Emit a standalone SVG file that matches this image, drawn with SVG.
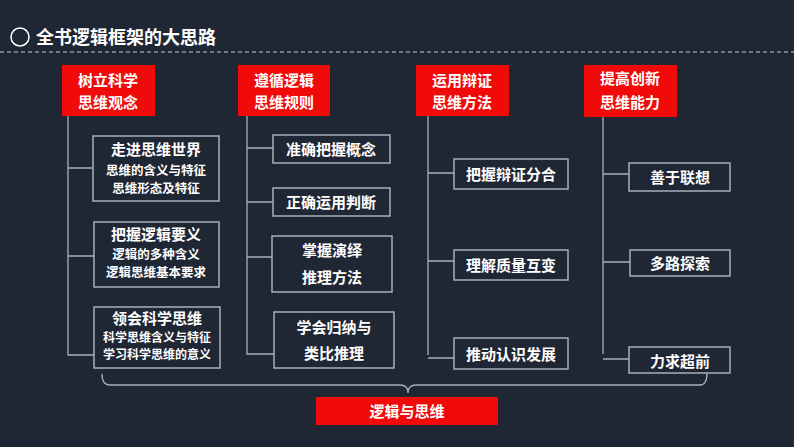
<svg xmlns="http://www.w3.org/2000/svg" width="794" height="447" viewBox="0 0 794 447">
<style>
text{font-family:"Noto Sans CJK SC","Liberation Sans",sans-serif;font-weight:bold;fill:#fff;text-anchor:middle}
.r{fill:#f00a0a}
.b{fill:#1f2634;stroke:#a9b0ba;stroke-width:1.5}
.c{fill:none;stroke:#a9b0ba;stroke-width:1.3}
.h{font-size:17px}
.s{font-size:12.5px}
.m{font-size:15px}
</style>
<rect width="794" height="447" fill="#1f2634"/>
<circle cx="20" cy="37" r="9" fill="none" stroke="#fff" stroke-width="1.5"/>
<text x="36" y="44" style="font-size:18px;text-anchor:start">全书逻辑框架的大思路</text>
<line x1="0" y1="52" x2="794" y2="52" stroke="#c8ccd2" stroke-width="1.2" stroke-dasharray="4,3"/>
<g id="connectors">
<path class="c" d="M68 116V355H94M68 168H93M68 256H94"/>
<path class="c" d="M247 116V354H274M247 148H273M247 202H273M247 257H272"/>
<path class="c" d="M428 116V355M428 173H454M428 261H454M428 358H454"/>
<path class="c" d="M603 117V354M603 174H629M603 262H630M603 359H629"/>
<path class="c" d="M102 374Q102 385 110 385H400Q408 385 408 393Q408 385 416 385H700Q707 385 707 373"/>
</g>
<g id="n1"><rect class="r" x="62" y="65" width="93" height="51"/><text class="m" x="108" y="86">树立科学</text><text class="m" x="108" y="108">思维观念</text></g>
<g id="n2"><rect class="r" x="238" y="65" width="92" height="51"/><text class="m" x="284" y="86">遵循逻辑</text><text class="m" x="284" y="108">思维规则</text></g>
<g id="n3"><rect class="r" x="416" y="65" width="93" height="51"/><text class="m" x="462" y="86">运用辩证</text><text class="m" x="462" y="108">思维方法</text></g>
<g id="n4"><rect class="r" x="584" y="65" width="93" height="52"/><text class="m" x="630" y="84">提高创新</text><text class="m" x="630" y="108">思维能力</text></g>
<g id="a1"><rect class="b" x="93" y="136" width="126" height="65"/><text class="m" x="156" y="155">走进思维世界</text><text class="s" x="156" y="175">思维的含义与特征</text><text class="s" x="156" y="193">思维形态及特征</text></g>
<g id="a2"><rect class="b" x="94" y="222" width="125" height="65"/><text class="m" x="156" y="240">把握逻辑要义</text><text class="s" x="156" y="259">逻辑的多种含义</text><text class="s" x="156" y="277">逻辑思维基本要求</text></g>
<g id="a3"><rect class="b" x="94" y="307" width="126" height="61"/><text class="m" x="157" y="324">领会科学思维</text><text class="s" x="157" y="342" style="font-size:12px">科学思维含义与特征</text><text class="s" x="157" y="359" style="font-size:12px">学习科学思维的意义</text></g>
<g id="b1"><rect class="b" x="273" y="135" width="117" height="28"/><text class="m" x="331" y="155">准确把握概念</text></g>
<g id="b2"><rect class="b" x="273" y="188" width="117" height="28"/><text class="m" x="331" y="208">正确运用判断</text></g>
<g id="b3"><rect class="b" x="272" y="236" width="120" height="56"/><text class="m" x="332" y="256">掌握演绎</text><text class="m" x="332" y="283">推理方法</text></g>
<g id="b4"><rect class="b" x="274" y="312" width="120" height="56"/><text class="m" x="334" y="333">学会归纳与</text><text class="m" x="334" y="359">类比推理</text></g>
<g id="c1"><rect class="b" x="454" y="159" width="114" height="30"/><text class="m" x="511" y="180">把握辩证分合</text></g>
<g id="c2"><rect class="b" x="454" y="250" width="114" height="30"/><text class="m" x="511" y="271">理解质量互变</text></g>
<g id="c3"><rect class="b" x="454" y="338" width="114" height="31"/><text class="m" x="511" y="360">推动认识发展</text></g>
<g id="d1"><rect class="b" x="629" y="163" width="101" height="28"/><text class="m" x="680" y="183">善于联想</text></g>
<g id="d2"><rect class="b" x="630" y="250" width="100" height="26"/><text class="m" x="680" y="269">多路探索</text></g>
<g id="d3"><rect class="b" x="629" y="347" width="101" height="26"/><text class="m" x="680" y="367">力求超前</text></g>
<g id="root"><rect class="r" x="316" y="397" width="182" height="28"/><text class="m" x="407" y="417">逻辑与思维</text></g>
</svg>
